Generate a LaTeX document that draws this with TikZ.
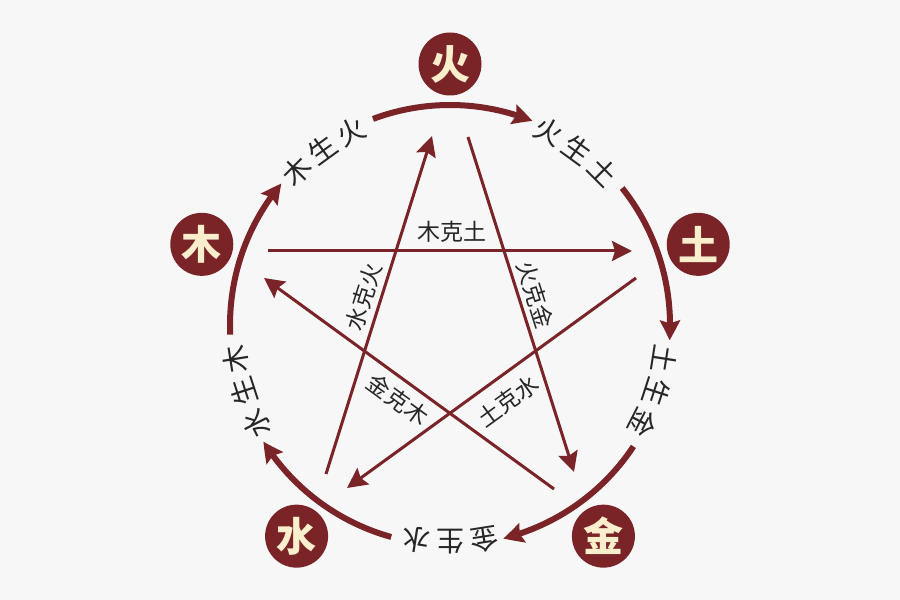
\documentclass[tikz,border=0pt]{standalone}
\usepackage{fontspec}
\newfontfamily\cjk{Noto Sans CJK SC}
\usetikzlibrary{arrows.meta,bending,calc}
\definecolor{wred}{RGB}{122,36,40}
\definecolor{cream}{RGB}{250,238,205}
\definecolor{bgc}{RGB}{247,247,247}
\definecolor{txt}{RGB}{38,38,38}
\begin{document}
\begin{tikzpicture}[x=1pt,y=1pt,
  elem/.style={circle,fill=wred,minimum size=63pt,inner sep=0pt,text=cream,font=\cjk\bfseries\fontsize{40}{40}\selectfont},
  genarc/.style={draw=wred,line width=6pt,-{Stealth[length=20pt,width=20pt,inset=3pt,bend]}},
  kearrow/.style={draw=wred,line width=3pt,-{Stealth[length=20pt,width=20pt,inset=3pt]}},
  gentxt/.style={text=txt,font=\cjk\fontsize{28}{28}\selectfont,inner sep=0pt},
  ketxt/.style={text=txt,font=\cjk\fontsize{23}{23}\selectfont,inner sep=0pt}]
\fill[bgc] (0,0) rectangle (900,600);
\useasboundingbox (0,0) rectangle (900,600);
\coordinate (C) at (450,275);
% element circles
\foreach \n/\a/\t in {huo/90/火, tu/18/土, jin/-54/金, shui/-126/水, mu/162/木}
  \node[elem] (\n) at ($(C)+(\a:261)$) {\t};
% generating arcs
\foreach \a [count=\i] in {162,90,18,-54,-126} {
  \coordinate (as\i) at ($(C)+(\a+20.5:220)$);
  \draw[genarc] (as\i) arc[start angle=\a+20.5, end angle=\a-22, radius=220pt];
}
% generating labels
\foreach \a/\x/\y/\z [count=\i] in {162/木/生/火, 90/火/生/土, 18/土/生/金, -54/金/生/水, -126/水/生/木} {
  \pgfmathsetmacro\c{\a-36}
  \node[gentxt,rotate=\c+9-90] (ga\i) at ($(C)+(\c+9:217)$) {\x};
  \node[gentxt,rotate=\c-90] (gb\i) at ($(C)+(\c:217)$) {\y};
  \node[gentxt,rotate=\c-9-90] (gc\i) at ($(C)+(\c-9:217)$) {\z};
}
% restraining arrows
\coordinate (k1s) at (268,349); \coordinate (k1e) at (632,349);
\coordinate (k2s) at (468,463); \coordinate (k2e) at (574,128);
\coordinate (k3s) at (636,322); \coordinate (k3e) at (347,112);
\coordinate (k4s) at (326,126); \coordinate (k4e) at (432,464);
\coordinate (k5s) at (554,111); \coordinate (k5e) at (264,322);
\draw[kearrow] (k1s) -- (k1e);
\draw[kearrow] (k2s) -- (k2e);
\draw[kearrow] (k3s) -- (k3e);
\draw[kearrow] (k4s) -- (k4e);
\draw[kearrow] (k5s) -- (k5e);
% restraining labels
\node[ketxt] (l1) at (452,368) {木克土};
\node[ketxt,rotate=-72.4] (l2) at (535,305) {火克金};
\node[ketxt,rotate=72.4] (l4) at (364,303) {水克火};
\node[ketxt,rotate=-36] (l5) at (398,200) {金克木};
\node[ketxt,rotate=36] (l3) at (508,199) {土克水};
\end{tikzpicture}
\end{document}
